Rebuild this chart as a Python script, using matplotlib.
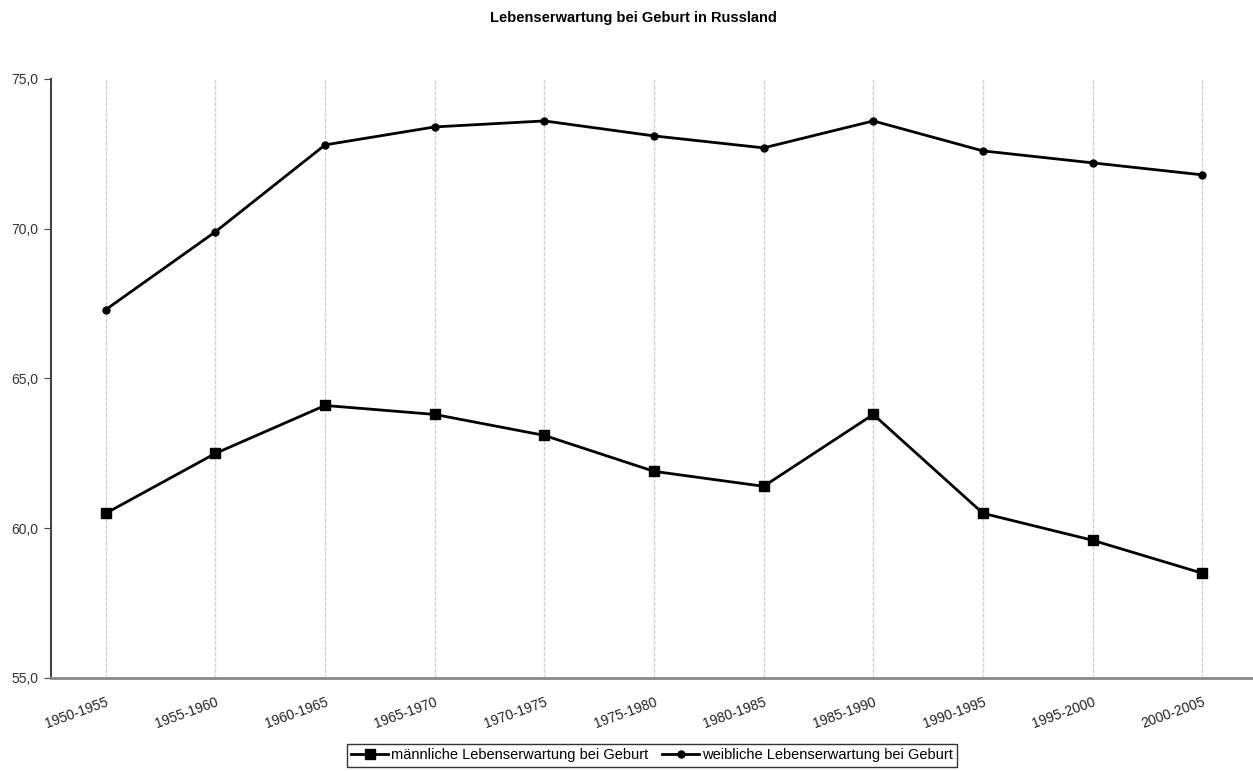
import matplotlib
matplotlib.use("Agg")
import matplotlib.pyplot as plt

plt.rcParams["font.family"] = ["Liberation Sans", "DejaVu Sans"]

periods = ["1950-1955", "1955-1960", "1960-1965", "1965-1970", "1970-1975",
           "1975-1980", "1980-1985", "1985-1990", "1990-1995", "1995-2000",
           "2000-2005"]
male = [60.5, 62.5, 64.1, 63.8, 63.1, 61.9, 61.4, 63.8, 60.5, 59.6, 58.5]
female = [67.3, 69.9, 72.8, 73.4, 73.6, 73.1, 72.7, 73.6, 72.6, 72.2, 71.8]

fig = plt.figure(figsize=(12.53, 7.71), dpi=100)
ax = fig.add_axes([51 / 1253, 93 / 771, 1206 / 1253, 599 / 771])

x = range(len(periods))
ax.plot(x, male, color="black", lw=2, marker="s", ms=7,
        label="männliche Lebenserwartung bei Geburt")
ax.plot(x, female, color="black", lw=2, marker="o", ms=5,
        label="weibliche Lebenserwartung bei Geburt")

ax.set_xlim(-0.5, len(periods) - 0.5)
ax.set_ylim(55, 75)
ax.set_yticks([55, 60, 65, 70, 75])
ax.set_yticklabels(["55,0", "60,0", "65,0", "70,0", "75,0"], fontsize=10, color="#333333")
ax.set_xticks(list(x))
ax.set_xticklabels(periods, rotation=20, ha="right", rotation_mode="anchor",
                   fontsize=10, color="#222222")
ax.tick_params(axis="x", length=0, pad=12)
ax.tick_params(axis="y", length=5, color="#444444", pad=4)
ax.xaxis.grid(True, color="#d2d2d2", lw=1, ls=(0, (3, 1)))
ax.set_axisbelow(True)

for s in ["top", "right"]:
    ax.spines[s].set_visible(False)
ax.spines["left"].set_color("#444444")
ax.spines["left"].set_linewidth(1.5)
ax.spines["bottom"].set_color("#888888")
ax.spines["bottom"].set_linewidth(2)

fig.text(633 / 1253, 1 - 18 / 771, "Lebenserwartung bei Geburt in Russland",
         ha="center", va="center", fontsize=10.5, fontweight="bold")

leg = fig.legend(loc="upper center", bbox_to_anchor=(652 / 1253, 1 - 744 / 771),
                 ncol=2, fontsize=10.5, frameon=True, fancybox=False,
                 handlelength=2.5, handletextpad=0.2, columnspacing=1.0,
                 borderpad=0.3, borderaxespad=0, edgecolor="black")
leg.get_frame().set_linewidth(1)

fig.savefig("out.png", dpi=100)
